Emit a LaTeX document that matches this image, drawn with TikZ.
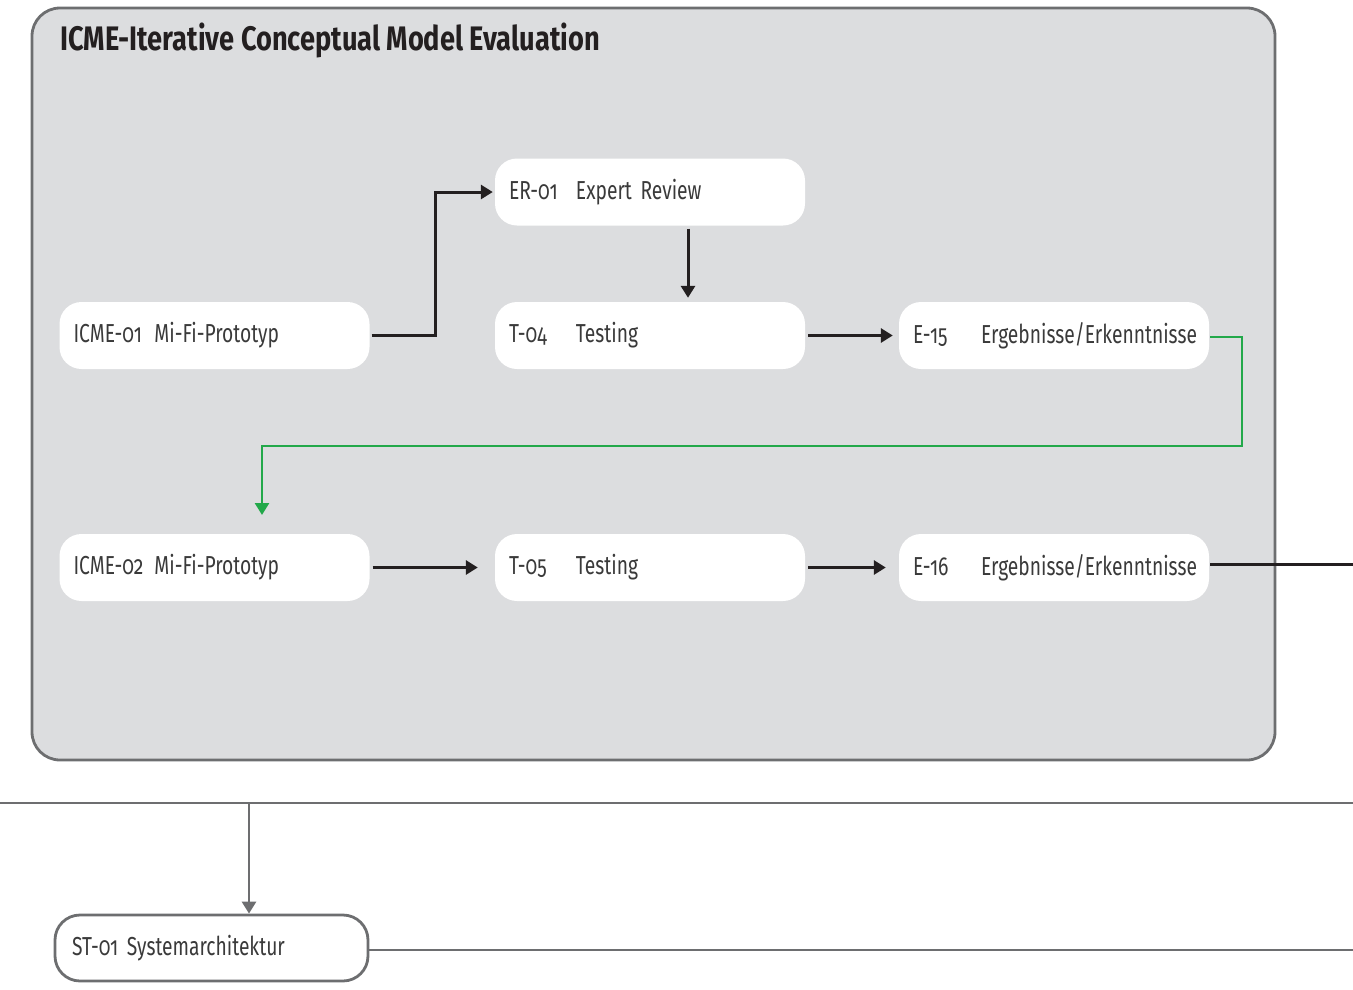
\documentclass[tikz,border=0pt]{standalone}
\usepackage{fontspec}
\setmainfont{Fira Sans}[FakeStretch=0.74, Numbers=OldStyle, WordSpace=0.6]
\newfontfamily\titlefont{Fira Sans}[FakeStretch=0.8, UprightFont=* Bold]
\usetikzlibrary{arrows.meta}
\definecolor{panelfill}{HTML}{DCDDDF}
\definecolor{panelline}{HTML}{6D6E70}
\definecolor{ink}{HTML}{231F20}
\definecolor{txt}{HTML}{3A3A3A}
\definecolor{loopgreen}{HTML}{22A84A}
\tikzset{
  stepbox/.style={fill=white, rounded corners=22pt, minimum width=310pt, minimum height=67pt,
    inner xsep=14pt, inner ysep=0pt, text width=282pt, align=left, text=txt,
    font=\fontsize{26}{30}\selectfont},
  archbox/.style={fill=white, draw=panelline, line width=2.8pt, rounded corners=25pt,
    minimum width=313pt, minimum height=66pt, inner xsep=17pt, inner ysep=0pt,
    text width=279pt, align=left, text=txt, font=\fontsize{26}{30}\selectfont},
  flow/.style={draw=ink, line width=3pt, -{Triangle[length=12pt,width=14pt]}},
  plainflow/.style={draw=ink, line width=3pt},
  greenflow/.style={draw=loopgreen, line width=2.6pt, -{Triangle[length=12pt,width=14pt]}},
  busline/.style={draw=panelline, line width=2.8pt},
  busflow/.style={draw=panelline, line width=2.8pt, -{Triangle[length=12pt,width=14pt]}},
}
\newcommand{\tag}[2]{\makebox[#1][l]{#2}}
\begin{document}
\begin{tikzpicture}[x=1pt, y=-1pt]
\useasboundingbox (0,0) rectangle (1353,989);

% evaluation panel
\node[fill=panelfill, draw=panelline, line width=2.8pt, rounded corners=28pt,
  minimum width=1243pt, minimum height=752pt, inner sep=0pt] (panel) at (653.5,384) {};
\node[anchor=base west, inner sep=0pt, text=ink, font=\titlefont\fontsize{34}{36}\selectfont]
  (title) at (60,50) {ICME-Iterative Conceptual Model Evaluation};

% process steps
\node[stepbox] (icme1) at (214.5,335.5) {\tag{81pt}{ICME-01}Mi-Fi-Prototyp};
\node[stepbox] (er1)   at (650,192)     {\tag{67pt}{ER-01}Expert Review};
\node[stepbox] (t4)    at (650,335.5)   {\tag{67pt}{T-04}Testing};
\node[stepbox] (e15)   at (1054,335.5)  {\tag{68pt}{E-15}Ergebnisse/Erkenntnisse};
\node[stepbox] (icme2) at (214.5,567.5) {\tag{81pt}{ICME-02}Mi-Fi-Prototyp};
\node[stepbox] (t5)    at (650,567.5)   {\tag{67pt}{T-05}Testing};
\node[stepbox] (e16)   at (1054,567.5)  {\tag{68pt}{E-16}Ergebnisse/Erkenntnisse};

% architecture step below the panel
\node[archbox] (st1) at (211.5,948) {ST-01 Systemarchitektur};

% helper coordinates
\coordinate (g1) at (1242,337);
\coordinate (g2) at (262,446);
\coordinate (g3) at (262,515);
\coordinate (e16out) at (1353,564);
\coordinate (busL) at (0,803);
\coordinate (busR) at (1353,803);
\coordinate (busT) at (249,803);
\coordinate (st1out) at (1353,950);

% connectors
\draw[flow, shorten <=2pt, shorten >=2pt] (icme1.east) -- ++(66,0) |- (er1.west);
\draw[flow, shorten <=3pt, shorten >=4pt] ([xshift=38pt]er1.south) -- ([xshift=38pt]t4.north);
\draw[flow, shorten <=3pt, shorten >=6pt] (t4.east) -- (e15.west);
\draw[greenflow, shorten <=1pt] (e15.east |- g1) -- (g1) |- (g2) -- (g3);
\draw[flow, shorten <=3pt, shorten >=17pt] (icme2.east) -- (t5.west);
\draw[flow, shorten <=3pt, shorten >=13pt] (t5.east) -- (e16.west);
\draw[plainflow, shorten <=1pt] (e16.east |- e16out) -- (e16out);

% system bus
\draw[busline] (busL) -- (busR);
\draw[busflow] (busT) -- ([xshift=37.5pt]st1.north);
\draw[busline] (st1.east |- st1out) -- (st1out);
\end{tikzpicture}
\end{document}
